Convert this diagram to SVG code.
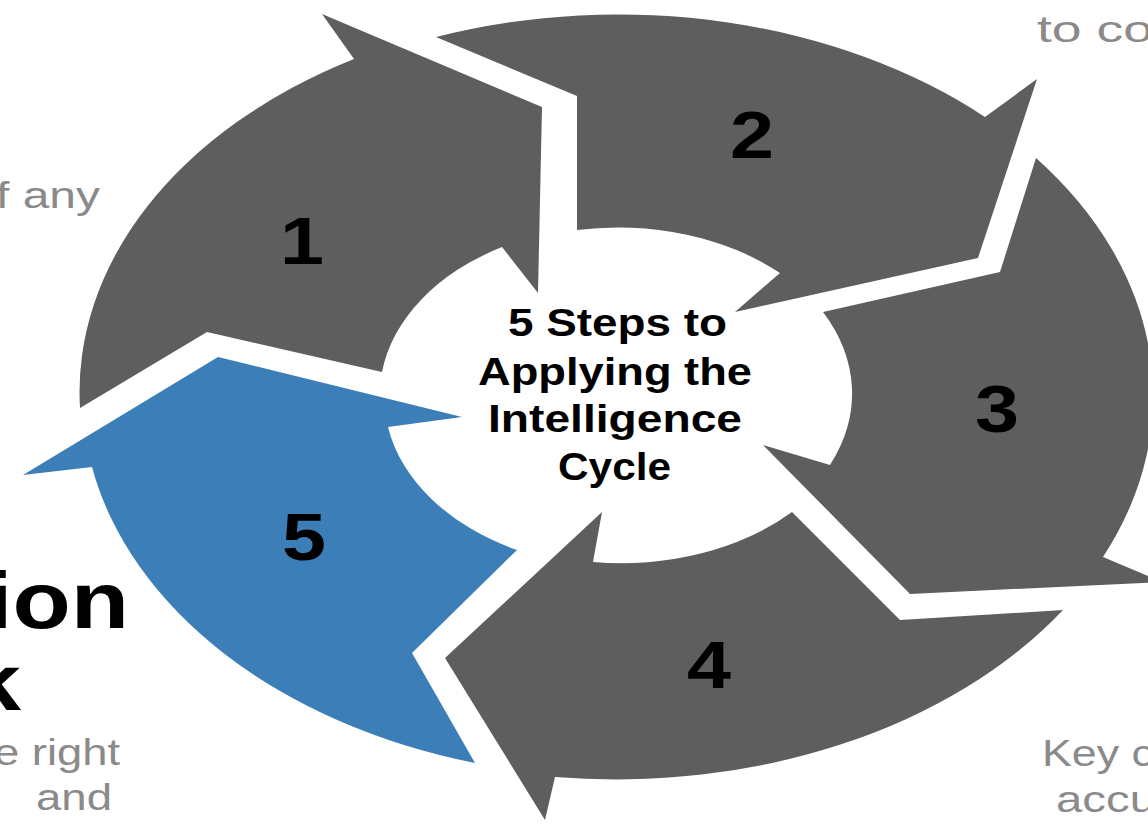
<svg xmlns="http://www.w3.org/2000/svg" width="1148" height="827" viewBox="0 0 1148 827">
  <style>
    .seg { fill: #5e5e5e; }
    .blue { fill: #3c7fb8; }
    .num { font-family: "Liberation Sans", Arial, sans-serif; font-weight: bold; font-size: 66px; fill: #000; text-anchor: middle; }
    .title { font-family: "Liberation Sans", Arial, sans-serif; font-weight: bold; font-size: 38px; fill: #000; }
    .side { font-family: "Liberation Sans", Arial, sans-serif; font-size: 36px; fill: #8a8a8a; }
    .big { font-family: "Liberation Sans", Arial, sans-serif; font-weight: bold; font-size: 80px; fill: #000; }
  </style>
  <rect width="1148" height="827" fill="#ffffff"/>

  <g id="side-text">
    <text class="side" x="-4" y="208" textLength="104" lengthAdjust="spacingAndGlyphs">f any</text>
    <text class="side" x="1037" y="42" textLength="116" lengthAdjust="spacingAndGlyphs">to co</text>
    <text class="big" x="-14" y="628" textLength="143" lengthAdjust="spacingAndGlyphs">ion</text>
    <text class="big" x="-33" y="710" textLength="54" lengthAdjust="spacingAndGlyphs">k</text>
    <text class="side" x="-6" y="765" textLength="126" lengthAdjust="spacingAndGlyphs">e right</text>
    <text class="side" x="36" y="810" textLength="76" lengthAdjust="spacingAndGlyphs">and</text>
    <text class="side" x="1042" y="766" textLength="112" lengthAdjust="spacingAndGlyphs">Key c</text>
    <text class="side" x="1056" y="812" textLength="100" lengthAdjust="spacingAndGlyphs">accu</text>
  </g>

  <g id="connectors"></g>

  <g id="step1">
    <path class="seg" d="M80,408 A538,382 0 0 1 354,59 L322,14 L542,107 L538,293 L502,247 A238,170 0 0 0 382,372 L207,332 Z"/>
    <text class="num" x="302" y="264" textLength="44" lengthAdjust="spacingAndGlyphs">1</text>
  </g>
  <g id="step2">
    <path class="seg" d="M436,37 A538,382 0 0 1 985,117 L1037,79 L978,258 L735,312 L780,273 A238,170 0 0 0 577,230 L577,96 Z"/>
    <text class="num" x="752" y="158" textLength="44" lengthAdjust="spacingAndGlyphs">2</text>
  </g>
  <g id="step3">
    <path class="seg" d="M1036,158 A538,382 0 0 1 1103,557 L1162,582 L910,594 L763,445 L830,465 A238,170 0 0 0 823,312 L1000,272 Z"/>
    <text class="num" x="997" y="432" textLength="44" lengthAdjust="spacingAndGlyphs">3</text>
  </g>
  <g id="step4">
    <path class="seg" d="M1063,610 A538,382 0 0 1 555,777 L545,820 L445,658 L602,512 L593,562 A238,170 0 0 0 792,512 L900,620 Z"/>
    <text class="num" x="709" y="688" textLength="44" lengthAdjust="spacingAndGlyphs">4</text>
  </g>
  <g id="step5">
    <path class="blue" d="M475,763 A538,382 0 0 1 92,467 L23,475 L218,357 L462,417 L388,427 A238,170 0 0 0 517,550 L412,653 Z"/>
    <text class="num" x="304" y="560" textLength="44" lengthAdjust="spacingAndGlyphs">5</text>
  </g>

  <g id="center-title">
    <text class="title" x="508" y="336" textLength="219" lengthAdjust="spacingAndGlyphs">5 Steps to</text>
    <text class="title" x="478" y="385" textLength="274" lengthAdjust="spacingAndGlyphs">Applying the</text>
    <text class="title" x="488" y="432" textLength="254" lengthAdjust="spacingAndGlyphs">Intelligence</text>
    <text class="title" x="558" y="480" textLength="113" lengthAdjust="spacingAndGlyphs">Cycle</text>
  </g>
</svg>
